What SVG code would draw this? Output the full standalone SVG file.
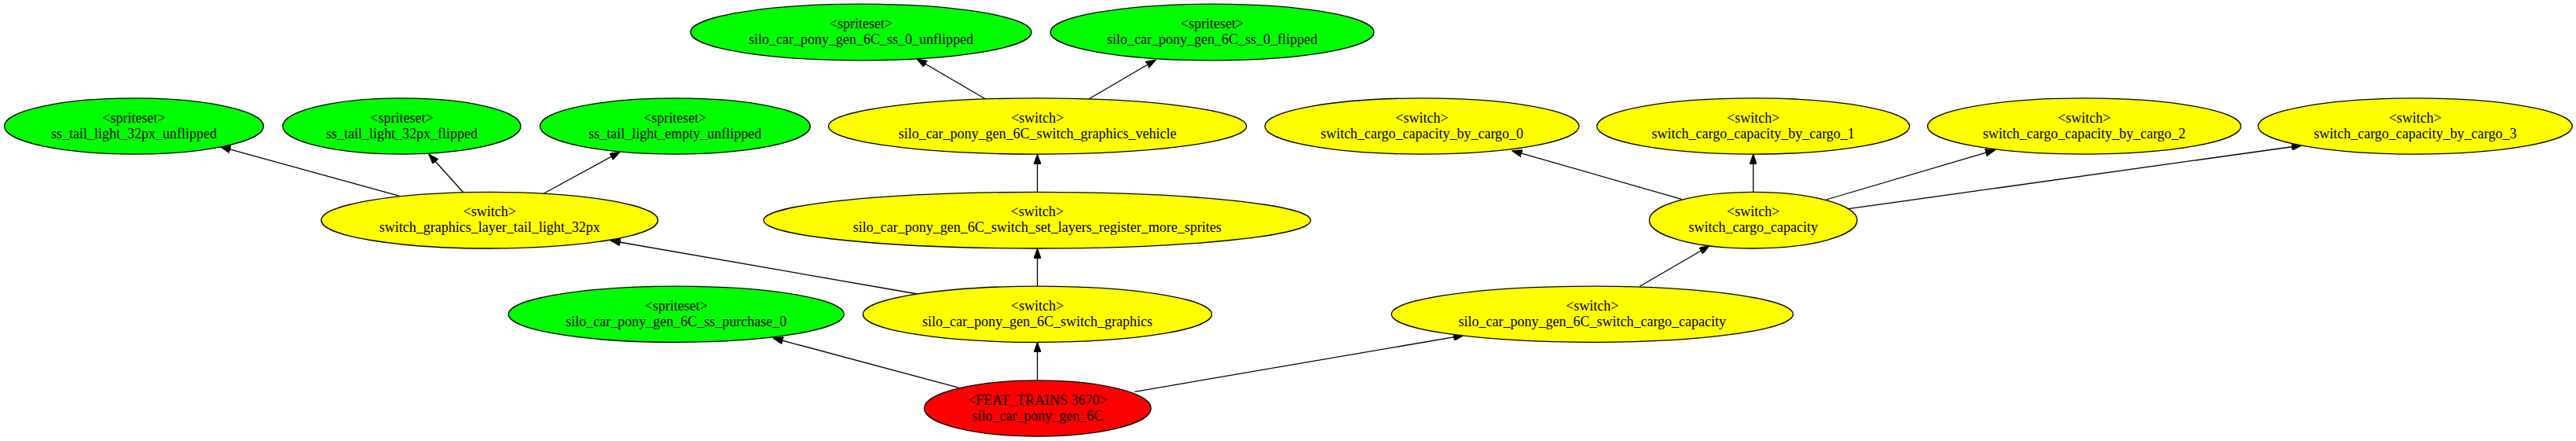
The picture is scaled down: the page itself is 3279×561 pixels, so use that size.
<svg xmlns="http://www.w3.org/2000/svg" width="3279" height="561" viewBox="0 0 3279 561">
<style>
.n ellipse{stroke:#000;stroke-width:1.3}
.g ellipse{fill:#00ff00}
.y ellipse{fill:#ffff00}
.r ellipse{fill:#ff0000}
text{font-family:"Liberation Serif","Times New Roman",serif;font-size:18px;fill:#000;text-anchor:middle}
.e line{stroke:#000;stroke-width:1.3;marker-end:url(#ah)}
</style>
<defs>
<marker id="ah" markerUnits="userSpaceOnUse" viewBox="0 0 13 9.4" refX="13" refY="4.7" markerWidth="13" markerHeight="9.4" orient="auto">
<path d="M0,0 L13,4.7 L0,9.4 z" fill="#000" stroke="#000" stroke-width="1"/>
</marker>
</defs>
<rect width="3279" height="561" fill="#fff"/>
<g class="e" id="edges">
<line x1="508.6" y1="249.3" x2="280.6" y2="186.7"/>
<line x1="589.3" y1="244.3" x2="545.8" y2="196"/>
<line x1="691" y1="246.7" x2="789.2" y2="193.3"/>
<line x1="1254.6" y1="126" x2="1167" y2="75"/>
<line x1="1385.8" y1="126" x2="1471.4" y2="76"/>
<line x1="1320.5" y1="244.5" x2="1320.5" y2="196"/>
<line x1="2140.3" y1="253.3" x2="1924.6" y2="191.7"/>
<line x1="2231.7" y1="244.5" x2="2231.7" y2="196"/>
<line x1="2324.6" y1="254" x2="2540" y2="190.7"/>
<line x1="2352.4" y1="265.7" x2="2929.9" y2="185"/>
<line x1="1167.8" y1="374" x2="777" y2="306"/>
<line x1="1320.5" y1="364.3" x2="1320.5" y2="316"/>
<line x1="1221" y1="493.3" x2="984" y2="430"/>
<line x1="1320.5" y1="484" x2="1320.5" y2="435.3"/>
<line x1="1444.4" y1="498.3" x2="1863" y2="426.7"/>
<line x1="2087.2" y1="364.3" x2="2176" y2="312.7"/>
</g>
<g id="n_ss0_unflipped" class="n g"><ellipse cx="1096" cy="41" rx="217" ry="35.8"/><text x="1096" y="36">&lt;spriteset&gt;</text><text x="1096" y="56">silo_car_pony_gen_6C_ss_0_unflipped</text></g>
<g id="n_ss0_flipped" class="n g"><ellipse cx="1543" cy="41" rx="206" ry="35.8"/><text x="1543" y="36">&lt;spriteset&gt;</text><text x="1543" y="56">silo_car_pony_gen_6C_ss_0_flipped</text></g>
<g id="n_tl_unflipped" class="n g"><ellipse cx="170.5" cy="160.5" rx="165" ry="35.6"/><text x="170.5" y="155.5">&lt;spriteset&gt;</text><text x="170.5" y="175.5">ss_tail_light_32px_unflipped</text></g>
<g id="n_tl_flipped" class="n g"><ellipse cx="511.4" cy="160.5" rx="151.5" ry="35.6"/><text x="511.4" y="155.5">&lt;spriteset&gt;</text><text x="511.4" y="175.5">ss_tail_light_32px_flipped</text></g>
<g id="n_tl_empty" class="n g"><ellipse cx="859.3" cy="160.5" rx="172" ry="35.6"/><text x="859.3" y="155.5">&lt;spriteset&gt;</text><text x="859.3" y="175.5">ss_tail_light_empty_unflipped</text></g>
<g id="n_vehicle" class="n y"><ellipse cx="1320.6" cy="160.5" rx="266" ry="35.6"/><text x="1320.6" y="155.5">&lt;switch&gt;</text><text x="1320.6" y="175.5">silo_car_pony_gen_6C_switch_graphics_vehicle</text></g>
<g id="n_cap0" class="n y"><ellipse cx="1810" cy="160.5" rx="200" ry="35.6"/><text x="1810" y="155.5">&lt;switch&gt;</text><text x="1810" y="175.5">switch_cargo_capacity_by_cargo_0</text></g>
<g id="n_cap1" class="n y"><ellipse cx="2231.7" cy="160.5" rx="199" ry="35.6"/><text x="2231.7" y="155.5">&lt;switch&gt;</text><text x="2231.7" y="175.5">switch_cargo_capacity_by_cargo_1</text></g>
<g id="n_cap2" class="n y"><ellipse cx="2653" cy="160.5" rx="199.5" ry="35.6"/><text x="2653" y="155.5">&lt;switch&gt;</text><text x="2653" y="175.5">switch_cargo_capacity_by_cargo_2</text></g>
<g id="n_cap3" class="n y"><ellipse cx="3074.3" cy="160.5" rx="200" ry="35.6"/><text x="3074.3" y="155.5">&lt;switch&gt;</text><text x="3074.3" y="175.5">switch_cargo_capacity_by_cargo_3</text></g>
<g id="n_layer_tail" class="n y"><ellipse cx="623.2" cy="280.2" rx="214.3" ry="35.8"/><text x="623.2" y="275.2">&lt;switch&gt;</text><text x="623.2" y="295.2">switch_graphics_layer_tail_light_32px</text></g>
<g id="n_set_layers" class="n y"><ellipse cx="1320.2" cy="280.2" rx="348.2" ry="35.8"/><text x="1320.2" y="275.2">&lt;switch&gt;</text><text x="1320.2" y="295.2">silo_car_pony_gen_6C_switch_set_layers_register_more_sprites</text></g>
<g id="n_cargo_cap" class="n y"><ellipse cx="2231.7" cy="280.2" rx="132.3" ry="35.8"/><text x="2231.7" y="275.2">&lt;switch&gt;</text><text x="2231.7" y="295.2">switch_cargo_capacity</text></g>
<g id="n_purchase" class="n g"><ellipse cx="860.8" cy="399.8" rx="213.6" ry="35.6"/><text x="860.8" y="394.8">&lt;spriteset&gt;</text><text x="860.8" y="414.8">silo_car_pony_gen_6C_ss_purchase_0</text></g>
<g id="n_graphics" class="n y"><ellipse cx="1320.5" cy="399.8" rx="222" ry="35.6"/><text x="1320.5" y="394.8">&lt;switch&gt;</text><text x="1320.5" y="414.8">silo_car_pony_gen_6C_switch_graphics</text></g>
<g id="n_gen_cargo" class="n y"><ellipse cx="2026.8" cy="399.8" rx="255.6" ry="35.6"/><text x="2026.8" y="394.8">&lt;switch&gt;</text><text x="2026.8" y="414.8">silo_car_pony_gen_6C_switch_cargo_capacity</text></g>
<g id="n_feat" class="n r"><ellipse cx="1320.8" cy="519.5" rx="144.3" ry="35.6"/><text x="1320.8" y="514.5">&lt;FEAT_TRAINS 3670&gt;</text><text x="1320.8" y="534.5">silo_car_pony_gen_6C</text></g>
</svg>
